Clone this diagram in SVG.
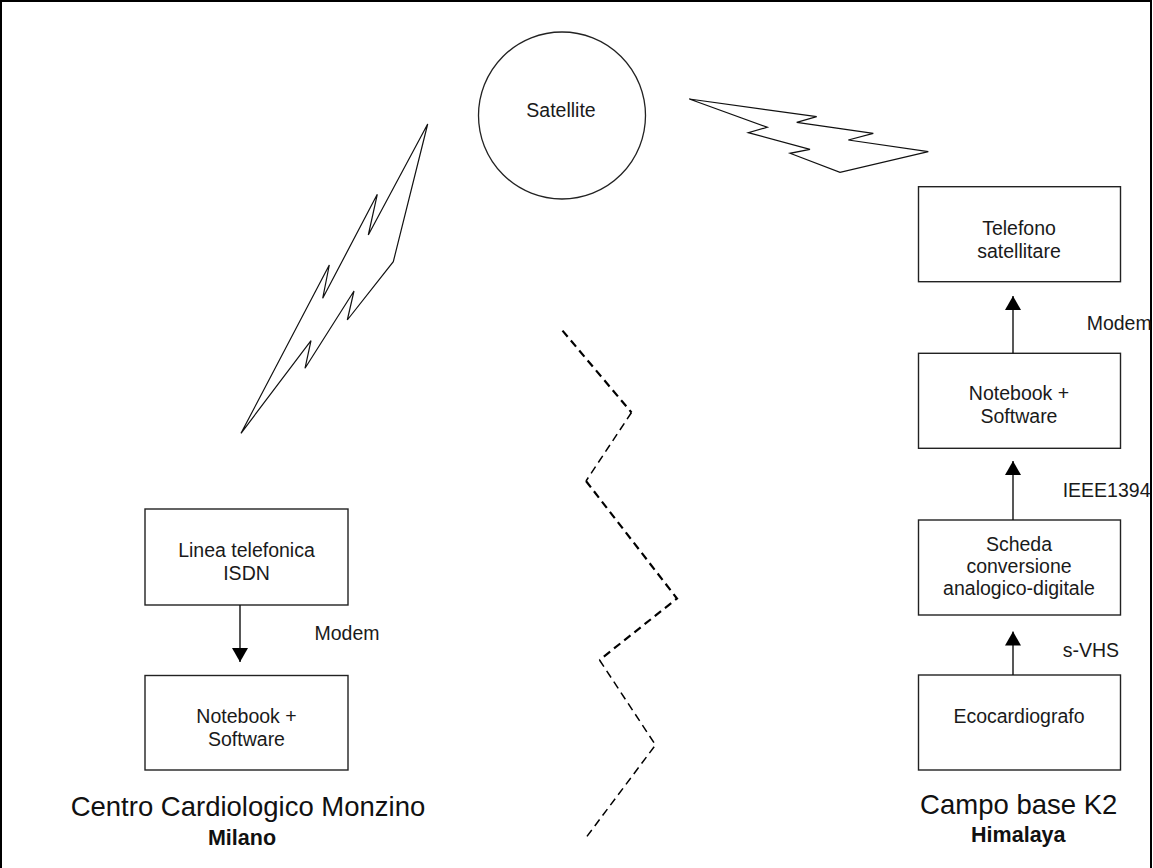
<svg xmlns="http://www.w3.org/2000/svg" width="1153" height="868" viewBox="0 0 1153 868">
<style>
  .box { fill: #fff; stroke: #222; stroke-width: 1.4; }
  .t { font-family: "Liberation Sans", Arial, sans-serif; font-size: 19.5px; fill: #1a1a1a; text-anchor: middle; }
  .lbl { font-family: "Liberation Sans", Arial, sans-serif; font-size: 19.5px; fill: #1a1a1a; }
  .title { font-family: "Liberation Sans", Arial, sans-serif; font-size: 27.5px; fill: #111; text-anchor: middle; }
  .sub { font-family: "Liberation Sans", Arial, sans-serif; font-size: 21.5px; font-weight: bold; fill: #111; text-anchor: middle; }
  .bolt { fill: #fff; stroke: #111; stroke-width: 1.2; stroke-linejoin: miter; }
  .conn { stroke: #111; stroke-width: 1.4; fill: none; }
  .dash { stroke: #000; fill: none; stroke-dasharray: 8 5; }
</style>
<defs>
  <marker id="ah" viewBox="0 0 14 16" refX="14" refY="8" markerWidth="14" markerHeight="16" orient="auto" markerUnits="userSpaceOnUse">
    <path d="M0,0 L14,8 L0,16 z" fill="#000"/>
  </marker>
</defs>
<rect x="1" y="1" width="1150" height="890" fill="#fff" stroke="#000" stroke-width="2"/>

<g id="satellite">
  <circle cx="562" cy="115.5" r="83.5" fill="#fff" stroke="#222" stroke-width="1.3"/>
  <text class="t" x="561" y="117">Satellite</text>
</g>

<g id="bolt-left">
  <polygon class="bolt" points="427.7,124 393.3,261.7 347.3,320 354,291 305,368.3 311,340.7 241,433.3 329.3,265 322.7,298.3 377.3,194.3 368.3,235"/>
</g>
<g id="bolt-right">
  <polygon class="bolt" points="689.3,99 816.7,116.7 796.7,122.3 873.3,133.3 848.3,140 928.3,151.7 840,172.3 790,153.3 810,149.3 748.3,132.7 767.3,127.3"/>
</g>

<g id="divider">
  <polyline class="dash" stroke-width="2.2" points="562.5,330.6 631.5,412.5"/>
  <polyline class="dash" stroke-width="1.5" points="631.5,412.5 586,481"/>
  <polyline class="dash" stroke-width="2.2" points="586,481 677,598.5 599.5,660"/>
  <polyline class="dash" stroke-width="1.5" points="599.5,660 655.5,745 585,839"/>
</g>

<g id="linea">
  <rect class="box" x="145" y="509" width="203" height="96"/>
  <text class="t" x="246.5" y="557">Linea telefonica</text>
  <text class="t" x="246.5" y="580">ISDN</text>
</g>
<g id="notebook-milano">
  <rect class="box" x="145" y="675.5" width="203" height="94.5"/>
  <text class="t" x="246.5" y="722.5">Notebook +</text>
  <text class="t" x="246.5" y="745.5">Software</text>
</g>

<g id="telefono">
  <rect class="box" x="918.5" y="186.7" width="202" height="95"/>
  <text class="t" x="1019" y="235">Telefono</text>
  <text class="t" x="1019" y="258.3">satellitare</text>
</g>
<g id="notebook-k2">
  <rect class="box" x="918.5" y="353.3" width="202" height="95"/>
  <text class="t" x="1019" y="400">Notebook +</text>
  <text class="t" x="1019" y="423.3">Software</text>
</g>
<g id="scheda">
  <rect class="box" x="918.5" y="520" width="202" height="95"/>
  <text class="t" x="1019" y="550.7">Scheda</text>
  <text class="t" x="1019" y="572.5">conversione</text>
  <text class="t" x="1019" y="595">analogico-digitale</text>
</g>
<g id="ecocardiografo">
  <rect class="box" x="918.5" y="675" width="202" height="95"/>
  <text class="t" x="1019" y="723.3">Ecocardiografo</text>
</g>

<g id="connectors">
  <line class="conn" x1="240" y1="605" x2="240" y2="662" marker-end="url(#ah)"/>
  <line class="conn" x1="1013" y1="353.3" x2="1013" y2="296" marker-end="url(#ah)"/>
  <line class="conn" x1="1013" y1="520" x2="1013" y2="461" marker-end="url(#ah)"/>
  <line class="conn" x1="1013" y1="675" x2="1013" y2="631.5" marker-end="url(#ah)"/>
</g>

<g id="labels">
  <text class="lbl" x="314.5" y="640">Modem</text>
  <text class="lbl" x="1086.7" y="330">Modem</text>
  <text class="lbl" x="1062.7" y="496.7">IEEE1394</text>
  <text class="lbl" x="1062.7" y="656.7">s-VHS</text>
</g>

<g id="title-milano">
  <text class="title" x="248" y="816">Centro Cardiologico Monzino</text>
  <text class="sub" x="242" y="845">Milano</text>
</g>
<g id="title-k2">
  <text class="title" x="1018.7" y="814">Campo base K2</text>
  <text class="sub" x="1018.3" y="842">Himalaya</text>
</g>
</svg>
